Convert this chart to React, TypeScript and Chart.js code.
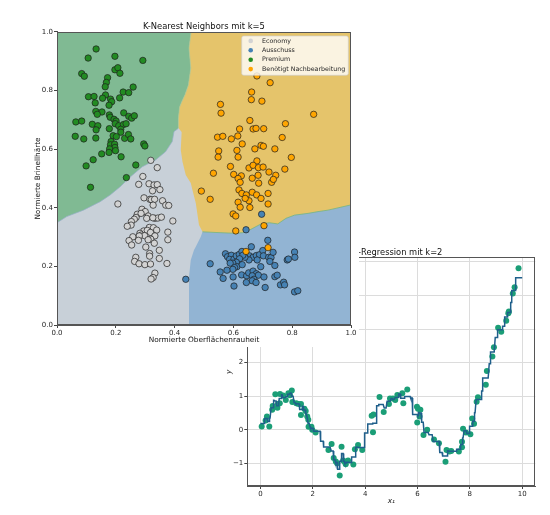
import { useEffect, useRef } from 'react';
import { Chart, registerables } from 'chart.js';

Chart.register(...registerables);

const FONT = "'DejaVu Sans', 'Noto Sans', sans-serif";

// ---------- KNN-Klassifikation ----------
const classNames = ['Economy', 'Ausschuss', 'Premium', 'Benötigt Nachbearbeitung'];
const classColors = ['#d3d3d3', '#4682b4', '#228b22', '#ffa500'];
const regionColors = ['#c8d0d8', '#92b4d3', '#80ba93', '#e5c46b'];
const knnTicks = [0, 0.2, 0.4, 0.6, 0.8, 1.0];

const economyPoints: [number, number][] = [
  [0.341, 0.537], [0.319, 0.562], [0.292, 0.507], [0.278, 0.480], [0.313, 0.482], [0.330, 0.478],
  [0.341, 0.479], [0.325, 0.458], [0.350, 0.462], [0.296, 0.434], [0.316, 0.429], [0.321, 0.428],
  [0.332, 0.429], [0.359, 0.424], [0.370, 0.409], [0.380, 0.408], [0.327, 0.409], [0.207, 0.413],
  [0.289, 0.395], [0.300, 0.387], [0.273, 0.378], [0.286, 0.381], [0.310, 0.372], [0.333, 0.364],
  [0.343, 0.365], [0.355, 0.368], [0.269, 0.367], [0.263, 0.361], [0.253, 0.353], [0.305, 0.364],
  [0.326, 0.366], [0.394, 0.355], [0.252, 0.341], [0.239, 0.337], [0.314, 0.333], [0.328, 0.332],
  [0.339, 0.324], [0.295, 0.321], [0.307, 0.323], [0.282, 0.313], [0.287, 0.307], [0.298, 0.305],
  [0.318, 0.316], [0.333, 0.304], [0.377, 0.317], [0.258, 0.301], [0.280, 0.304], [0.319, 0.293],
  [0.277, 0.289], [0.310, 0.291], [0.245, 0.288], [0.377, 0.291], [0.254, 0.273], [0.331, 0.279],
  [0.302, 0.266], [0.348, 0.255], [0.315, 0.244], [0.315, 0.235], [0.268, 0.231], [0.264, 0.217],
  [0.279, 0.209], [0.299, 0.206], [0.318, 0.208], [0.348, 0.227], [0.374, 0.210], [0.333, 0.177],
  [0.327, 0.162], [0.320, 0.157],
];

const ausschussPoints: [number, number][] = [
  [0.643, 0.325], [0.696, 0.378], [0.717, 0.289], [0.661, 0.267], [0.438, 0.156], [0.521, 0.209],
  [0.573, 0.243], [0.580, 0.233], [0.593, 0.238], [0.587, 0.224], [0.602, 0.225], [0.610, 0.236],
  [0.620, 0.241], [0.629, 0.251], [0.655, 0.236], [0.667, 0.231], [0.678, 0.237], [0.689, 0.240],
  [0.700, 0.254], [0.702, 0.236], [0.681, 0.222], [0.653, 0.222], [0.639, 0.231], [0.632, 0.238],
  [0.621, 0.226], [0.610, 0.214], [0.598, 0.211], [0.589, 0.211], [0.612, 0.199], [0.630, 0.206],
  [0.604, 0.196], [0.598, 0.190], [0.578, 0.187], [0.555, 0.181], [0.565, 0.159], [0.599, 0.164],
  [0.602, 0.133], [0.628, 0.171], [0.645, 0.168], [0.652, 0.178], [0.667, 0.184], [0.678, 0.175],
  [0.685, 0.170], [0.664, 0.168], [0.670, 0.156], [0.664, 0.151], [0.677, 0.145], [0.644, 0.145],
  [0.693, 0.199], [0.704, 0.164], [0.708, 0.128], [0.720, 0.231], [0.728, 0.230], [0.735, 0.248],
  [0.724, 0.217], [0.741, 0.203], [0.741, 0.165], [0.749, 0.170], [0.760, 0.137], [0.771, 0.146],
  [0.774, 0.137], [0.783, 0.222], [0.787, 0.225], [0.808, 0.249], [0.809, 0.231], [0.808, 0.113],
  [0.819, 0.117],
];

const premiumPoints: [number, number][] = [
  [0.133, 0.942], [0.106, 0.911], [0.197, 0.917], [0.292, 0.903], [0.084, 0.858], [0.093, 0.849],
  [0.197, 0.871], [0.207, 0.878], [0.214, 0.859], [0.172, 0.844], [0.168, 0.828], [0.164, 0.813],
  [0.259, 0.812], [0.225, 0.795], [0.244, 0.793], [0.107, 0.779], [0.126, 0.780], [0.165, 0.785],
  [0.155, 0.774], [0.182, 0.771], [0.186, 0.762], [0.213, 0.775], [0.130, 0.758], [0.177, 0.750],
  [0.132, 0.729], [0.153, 0.727], [0.137, 0.719], [0.227, 0.724], [0.244, 0.712], [0.254, 0.706],
  [0.263, 0.714], [0.178, 0.717], [0.181, 0.709], [0.194, 0.702], [0.201, 0.696], [0.064, 0.693],
  [0.084, 0.696], [0.120, 0.685], [0.139, 0.680], [0.198, 0.687], [0.210, 0.680], [0.226, 0.684],
  [0.235, 0.687], [0.133, 0.666], [0.178, 0.670], [0.217, 0.668], [0.217, 0.658], [0.062, 0.644],
  [0.091, 0.635], [0.132, 0.638], [0.191, 0.646], [0.202, 0.643], [0.230, 0.637], [0.243, 0.650],
  [0.251, 0.635], [0.184, 0.626], [0.182, 0.615], [0.196, 0.617], [0.197, 0.606], [0.179, 0.601],
  [0.177, 0.589], [0.199, 0.595], [0.295, 0.618], [0.299, 0.611], [0.152, 0.584], [0.218, 0.574],
  [0.123, 0.564], [0.099, 0.543], [0.268, 0.546], [0.236, 0.503], [0.114, 0.470],
];

const nachbearbeitungPoints: [number, number][] = [
  [0.680, 0.850], [0.725, 0.827], [0.662, 0.795], [0.661, 0.769], [0.697, 0.764], [0.556, 0.753],
  [0.558, 0.723], [0.873, 0.719], [0.656, 0.698], [0.777, 0.687], [0.621, 0.669], [0.667, 0.669],
  [0.677, 0.671], [0.703, 0.670], [0.546, 0.641], [0.564, 0.644], [0.593, 0.635], [0.615, 0.645],
  [0.766, 0.640], [0.630, 0.618], [0.694, 0.613], [0.702, 0.610], [0.673, 0.601], [0.741, 0.601],
  [0.550, 0.594], [0.612, 0.596], [0.548, 0.573], [0.616, 0.573], [0.797, 0.572], [0.680, 0.560],
  [0.590, 0.541], [0.653, 0.536], [0.667, 0.545], [0.685, 0.537], [0.701, 0.539], [0.775, 0.532],
  [0.532, 0.518], [0.601, 0.514], [0.627, 0.509], [0.616, 0.500], [0.664, 0.501], [0.684, 0.511],
  [0.721, 0.522], [0.744, 0.511], [0.623, 0.487], [0.686, 0.484], [0.730, 0.487], [0.736, 0.497],
  [0.491, 0.457], [0.521, 0.429], [0.619, 0.461], [0.629, 0.449], [0.644, 0.444], [0.664, 0.453],
  [0.679, 0.444], [0.694, 0.432], [0.718, 0.449], [0.653, 0.424], [0.640, 0.432], [0.616, 0.419],
  [0.718, 0.413], [0.623, 0.402], [0.656, 0.401], [0.599, 0.379], [0.608, 0.372], [0.704, 0.339],
  [0.608, 0.321], [0.643, 0.251], [0.718, 0.264],
];

// Grenzlinien der Entscheidungsregionen (Datenkoordinaten)
const borderPremiumNachbearbeitung: [number, number][] = [
  [0.456, 1], [0.449, 0.945], [0.455, 0.877], [0.447, 0.819], [0.435, 0.785], [0.424, 0.761],
  [0.417, 0.744], [0.413, 0.706], [0.413, 0.672],
];
const borderPremiumEconomy: [number, number][] = [
  [0.413, 0.672], [0.409, 0.668], [0.398, 0.660], [0.392, 0.626], [0.369, 0.591], [0.335, 0.563],
  [0.290, 0.540], [0.250, 0.506], [0.215, 0.472], [0.181, 0.444], [0.147, 0.421], [0.090, 0.392],
  [0.033, 0.370], [0, 0.349],
];
const borderEconomyNachbearbeitung: [number, number][] = [
  [0.413, 0.672], [0.424, 0.659], [0.421, 0.597], [0.427, 0.556], [0.438, 0.512], [0.455, 0.485],
  [0.463, 0.451], [0.472, 0.416], [0.483, 0.341], [0.495, 0.318],
];
const borderAusschussNachbearbeitung: [number, number][] = [
  [0.495, 0.318], [0.534, 0.316], [0.603, 0.313], [0.631, 0.315], [0.649, 0.321], [0.666, 0.330],
  [0.694, 0.345], [0.722, 0.349], [0.751, 0.345], [0.779, 0.364], [0.808, 0.375], [0.854, 0.381],
  [0.888, 0.387], [0.922, 0.392], [1, 0.410],
];
const borderEconomyAusschuss: [number, number][] = [
  [0.495, 0.318], [0.489, 0.301], [0.472, 0.267], [0.466, 0.256], [0.455, 0.222], [0.449, 0.165],
  [0.449, 0],
];

// ---------- KNN-Regression ----------
const regX = [
  0.05, 0.20, 0.25, 0.34, 0.45, 0.47, 0.57, 0.65, 0.67, 0.74, 0.75, 0.87, 0.97, 1.07, 1.13, 1.20,
  1.22, 1.37, 1.46, 1.55, 1.55, 1.68, 1.73, 1.79, 1.83, 1.84, 1.95, 1.98, 2.11, 2.60, 2.72, 2.80,
  2.88, 2.93, 3.03, 3.10, 3.16, 3.22, 3.26, 3.35, 3.55, 3.61, 3.73, 3.89, 4.25, 4.30, 4.32, 4.55,
  4.71, 4.91, 4.95, 5.06, 5.15, 5.23, 5.42, 5.46, 5.61, 5.98, 5.99, 6.02, 6.08, 6.11, 6.23, 6.37,
  6.63, 6.82, 7.07, 7.11, 7.22, 7.29, 7.58, 7.70, 7.70, 7.74, 7.85, 8.02, 8.09, 8.16, 8.26, 8.31,
  8.61, 8.65, 8.86, 8.92, 9.08, 9.20, 9.39, 9.47, 9.49, 9.64, 9.71, 9.86,
];
const regY = [
  0.10, 0.28, 0.40, 0.10, 0.60, 0.71, 1.06, 0.66, 0.77, 0.79, 1.07, 1.02, 0.89, 1.09, 1.03, 1.17,
  0.83, 0.79, 0.77, 0.77, 0.44, 0.63, 0.56, 0.40, 0.30, 0.09, 0.09, 0.00, -0.08, -0.60, -0.42, -0.84,
  -0.94, -0.99, -1.36, -0.50, -0.91, -0.95, -1.02, -0.91, -1.03, -0.58, -0.45, -0.60, 0.42, -0.07, 0.46, 0.98,
  0.53, 0.77, 0.93, 0.93, 0.89, 1.04, 1.09, 0.79, 1.20, 0.69, 0.22, 0.63, 0.40, 0.60, -0.15, 0.00,
  -0.29, -0.40, -0.95, -0.60, -0.64, -0.63, -0.64, -0.52, -0.35, 0.03, -0.08, -0.13, 0.34, 0.18, 0.84, 0.97,
  1.34, 1.75, 2.18, 2.46, 3.04, 2.92, 3.25, 3.47, 3.52, 4.06, 4.24, 4.81,
];
const regXTicks = [0, 2, 4, 6, 8, 10];
const regYTicks = [-1, 0, 1, 2, 3, 4, 5];
const K_REG = 2;
const PRED_STEPS = 1000;

// Mittelwert der k naechsten Nachbarn an der Stelle x
function knnPredict(x: number): number {
  const idx = regX.map((v, i) => i).sort((a, b) => Math.abs(regX[a] - x) - Math.abs(regX[b] - x));
  let s = 0;
  for (let i = 0; i < K_REG; i++) s += regY[idx[i]];
  return s / K_REG;
}

const tickFont = { family: FONT, size: 7 };
const labelFont = { family: FONT, size: 7.35 };
const TEXT = '#262626';

function tracePath(ctx: CanvasRenderingContext2D, chart: any, pts: [number, number][], start: boolean) {
  const { x, y } = chart.scales;
  pts.forEach(([vx, vy], i) => {
    const px = x.getPixelForValue(vx);
    const py = y.getPixelForValue(vy);
    if (i === 0 && start) ctx.moveTo(px, py);
    else ctx.lineTo(px, py);
  });
}
const rev = (p: [number, number][]) => p.slice().reverse();

const regionPlugin = {
  id: 'knnRegions',
  beforeDatasetsDraw(chart: any) {
    const { ctx, chartArea: a, scales } = chart;
    const { x, y } = scales;
    ctx.save();
    ctx.beginPath();
    ctx.rect(a.left, a.top, a.right - a.left, a.bottom - a.top);
    ctx.clip();
    // Economy als Grundflaeche
    ctx.fillStyle = regionColors[0];
    ctx.fillRect(a.left, a.top, a.right - a.left, a.bottom - a.top);

    // Premium
    ctx.beginPath();
    ctx.moveTo(x.getPixelForValue(0), y.getPixelForValue(1));
    tracePath(ctx, chart, borderPremiumNachbearbeitung, false);
    tracePath(ctx, chart, borderPremiumEconomy, false);
    ctx.closePath();
    ctx.fillStyle = regionColors[2];
    ctx.fill();

    // Benötigt Nachbearbeitung
    ctx.beginPath();
    ctx.moveTo(x.getPixelForValue(1), y.getPixelForValue(1));
    tracePath(ctx, chart, rev(borderAusschussNachbearbeitung), false);
    tracePath(ctx, chart, rev(borderEconomyNachbearbeitung), false);
    tracePath(ctx, chart, rev(borderPremiumNachbearbeitung), false);
    ctx.closePath();
    ctx.fillStyle = regionColors[3];
    ctx.fill();

    // Ausschuss
    ctx.beginPath();
    ctx.moveTo(x.getPixelForValue(1), y.getPixelForValue(0));
    tracePath(ctx, chart, rev(borderAusschussNachbearbeitung), false);
    tracePath(ctx, chart, borderEconomyAusschuss, false);
    ctx.closePath();
    ctx.fillStyle = regionColors[1];
    ctx.fill();

    // schmale Konturkanten zwischen den Regionen
    ctx.lineWidth = 1;
    ctx.strokeStyle = 'rgba(120,180,120,0.8)';
    ctx.beginPath();
    tracePath(ctx, chart, borderAusschussNachbearbeitung, true);
    ctx.stroke();
    ctx.strokeStyle = 'rgba(170,200,150,0.7)';
    ctx.beginPath();
    tracePath(ctx, chart, borderPremiumNachbearbeitung, true);
    ctx.stroke();
    ctx.strokeStyle = 'rgba(150,175,200,0.7)';
    ctx.beginPath();
    tracePath(ctx, chart, borderPremiumEconomy, true);
    ctx.stroke();
    ctx.restore();
  },
};

const framePlugin = {
  id: 'axesFrame',
  afterDatasetsDraw(chart: any) {
    const { ctx, chartArea: a } = chart;
    ctx.save();
    ctx.strokeStyle = '#555';
    ctx.lineWidth = 1;
    ctx.strokeRect(Math.round(a.left) + 0.5, Math.round(a.top) + 0.5, Math.round(a.right - a.left) - 1, Math.round(a.bottom - a.top) - 1);
    ctx.restore();
  },
};

const legendPlugin = {
  id: 'knnLegend',
  afterDraw(chart: any) {
    const { ctx, chartArea: a } = chart;
    const w = 106.6;
    const h = 39.3;
    const bx = a.right - 2.7 - w;
    const by = a.top + 4;
    ctx.save();
    ctx.beginPath();
    if (ctx.roundRect) ctx.roundRect(bx, by, w, h, 2);
    else ctx.rect(bx, by, w, h);
    ctx.fillStyle = 'rgba(255,255,255,0.8)';
    ctx.fill();
    ctx.strokeStyle = 'rgba(204,204,204,0.8)';
    ctx.lineWidth = 0.8;
    ctx.stroke();
    ctx.font = `6.3px ${FONT}`;
    ctx.textBaseline = 'middle';
    ctx.textAlign = 'left';
    classNames.forEach((name, i) => {
      const cy = by + 4.9 + i * 9.4;
      ctx.beginPath();
      ctx.arc(bx + 9, cy, 2.3, 0, Math.PI * 2);
      ctx.fillStyle = classColors[i];
      ctx.fill();
      ctx.fillStyle = TEXT;
      ctx.fillText(name, bx + 20.3, cy);
    });
    ctx.restore();
  },
};

function KnnClassifier() {
  const ref = useRef<HTMLCanvasElement | null>(null);
  useEffect(() => {
    if (!ref.current) return;
    const sets = [economyPoints, ausschussPoints, premiumPoints, nachbearbeitungPoints];
    const chart = new Chart(ref.current, {
      type: 'scatter',
      data: {
        datasets: sets.map((pts, i) => ({
          label: classNames[i],
          data: pts.map(([x, y]) => ({ x, y })),
          backgroundColor: classColors[i],
          borderColor: '#1e1e1e',
          borderWidth: 0.7,
          pointRadius: 3.2,
          pointHoverRadius: 3.2,
          order: 3 - i,
        })),
      },
      options: {
        responsive: false,
        animation: false,
        devicePixelRatio: 1,
        events: [],
        layout: { padding: { left: 0, right: 8, top: 0, bottom: 0 } },
        plugins: {
          legend: { display: false },
          tooltip: { enabled: false },
          title: {
            display: true,
            fullSize: false,
            text: 'K-Nearest Neighbors mit k=5',
            color: '#111',
            font: { family: FONT, size: 8.4, weight: 'normal' },
            padding: { top: 21.4, bottom: 0.5 },
          },
        },
        scales: {
          x: {
            type: 'linear',
            min: 0,
            max: 1,
            afterBuildTicks: (s: any) => { s.ticks = knnTicks.map((v) => ({ value: v })); },
            afterFit: (s: any) => { s.height = 22; },
            ticks: { font: tickFont, color: TEXT, padding: 1, maxRotation: 0, autoSkip: false, callback: (v: any) => Number(v).toFixed(1) },
            grid: { display: true, drawOnChartArea: false, drawTicks: true, tickLength: 3, tickColor: '#444' },
            border: { display: true, color: '#555' },
            title: { display: true, text: 'Normierte Oberflächenrauheit', color: '#111', font: labelFont, padding: { top: 0, bottom: 2.6 } },
          },
          y: {
            type: 'linear',
            min: 0,
            max: 1,
            afterBuildTicks: (s: any) => { s.ticks = knnTicks.map((v) => ({ value: v })); },
            afterFit: (s: any) => { s.width = 57; },
            ticks: { font: tickFont, color: TEXT, padding: 1, autoSkip: false, callback: (v: any) => Number(v).toFixed(1) },
            grid: { display: true, drawOnChartArea: false, drawTicks: true, tickLength: 3, tickColor: '#444' },
            border: { display: true, color: '#555' },
            title: { display: true, text: 'Normierte Brinellhärte', color: '#111', font: labelFont, padding: { top: 33.2, bottom: 0 } },
          },
        },
      },
      plugins: [regionPlugin, framePlugin, legendPlugin],
    } as any);
    return () => chart.destroy();
  }, []);
  return (
    <canvas
      ref={ref}
      width={359}
      height={347}
      style={{ position: 'absolute', left: 0, top: 0, width: 359, height: 347, background: '#fff', zIndex: 2 }}
    />
  );
}

function KnnRegression() {
  const ref = useRef<HTMLCanvasElement | null>(null);
  useEffect(() => {
    if (!ref.current) return;
    const line: { x: number; y: number }[] = [];
    for (let i = 0; i <= PRED_STEPS; i++) {
      const x = (10 * i) / PRED_STEPS;
      line.push({ x, y: knnPredict(x) });
    }
    const chart = new Chart(ref.current, {
      type: 'scatter',
      data: {
        datasets: [
          {
            type: 'line',
            label: 'Vorhersage',
            data: line,
            borderColor: '#1f5f8b',
            borderWidth: 1.5,
            pointRadius: 0,
            tension: 0,
            fill: false,
            order: 0,
          },
          {
            label: 'Daten',
            data: regX.map((x, i) => ({ x, y: regY[i] })),
            backgroundColor: '#1b9e77',
            borderWidth: 0,
            pointRadius: 3,
            pointHoverRadius: 3,
            order: 1,
          },
        ],
      },
      options: {
        responsive: false,
        animation: false,
        devicePixelRatio: 1,
        events: [],
        layout: { padding: { left: 0, right: 14.7, top: 0, bottom: 0 } },
        plugins: {
          legend: { display: false },
          tooltip: { enabled: false },
          title: {
            display: true,
            fullSize: false,
            text: 'KNN-Regression mit k=2',
            color: '#111',
            font: { family: FONT, size: 8.3, weight: 'normal' },
            padding: { top: 7.4, bottom: 0.1 },
          },
        },
        scales: {
          x: {
            type: 'linear',
            min: -0.5,
            max: 10.5,
            afterBuildTicks: (s: any) => { s.ticks = regXTicks.map((v) => ({ value: v })); },
            afterFit: (s: any) => { s.height = 29; },
            ticks: { font: tickFont, color: TEXT, padding: 1, maxRotation: 0, autoSkip: false, callback: (v: any) => String(v) },
            grid: { display: true, color: '#dcdcdc', lineWidth: 1, drawTicks: true, tickLength: 3, tickColor: '#444' },
            border: { display: true, color: '#555' },
            title: { display: true, text: 'x₁', color: '#111', font: { family: FONT, size: 7.35, style: 'italic' }, padding: { top: 0, bottom: 9.5 } },
          },
          y: {
            type: 'linear',
            min: -1.67,
            max: 5.13,
            afterBuildTicks: (s: any) => { s.ticks = regYTicks.map((v) => ({ value: v })); },
            afterFit: (s: any) => { s.width = 47.3; },
            ticks: { font: tickFont, color: TEXT, padding: 1, autoSkip: false, callback: (v: any) => (Number(v) < 0 ? '−' + Math.abs(Number(v)) : String(v)) },
            grid: { display: true, color: '#dcdcdc', lineWidth: 1, drawTicks: true, tickLength: 3, tickColor: '#444' },
            border: { display: true, color: '#555' },
            title: { display: true, text: 'y', color: '#111', font: { family: FONT, size: 7.35, style: 'italic' }, padding: { top: 25, bottom: 0 } },
          },
        },
      },
      plugins: [framePlugin],
    } as any);
    return () => chart.destroy();
  }, []);
  return (
    <canvas
      ref={ref}
      width={350}
      height={275}
      style={{ position: 'absolute', left: 200, top: 240, width: 350, height: 275, background: '#fff', zIndex: 1 }}
    />
  );
}

export default function App() {
  return (
    <div style={{ position: 'absolute', left: 0, top: 0, width: 550, height: 515, background: '#fff', overflow: 'hidden' }}>
      <KnnRegression />
      <KnnClassifier />
    </div>
  );
}
